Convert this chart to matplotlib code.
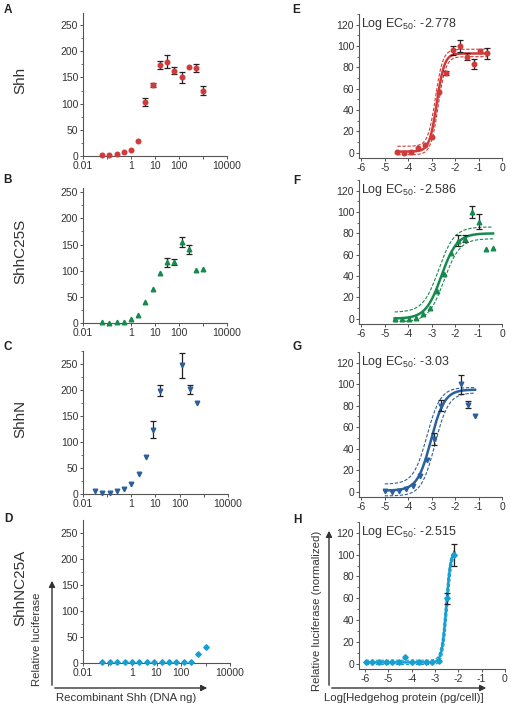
import matplotlib
matplotlib.use("Agg")
import matplotlib.pyplot as plt
import numpy as np
from matplotlib.ticker import MultipleLocator, NullLocator
from matplotlib.patches import FancyArrowPatch

plt.rcParams['font.family'] = ['Liberation Sans', 'DejaVu Sans']
plt.rcParams['mathtext.fontset'] = 'custom'
plt.rcParams['mathtext.rm'] = 'Liberation Sans'
plt.rcParams['mathtext.it'] = 'Liberation Sans:italic'
plt.rcParams['mathtext.bf'] = 'Liberation Sans:bold'
plt.rcParams['axes.unicode_minus'] = False

# ---- left column: relative luciferase vs recombinant Shh (DNA ng) ----
dna_ng = [0.0625, 0.125, 0.25, 0.5, 1, 2, 4, 8, 16, 32, 64, 128, 256, 512, 1024]

shh_y = [1, 2, 3, 8, 12, 28, 103, 136, 174, 180, 163, 150, 170, 168, 125]
shh_err = [0, 0, 0, 0, 0, 0, 8, 4, 8, 12, 7, 11, 0, 8, 8]

c25s_y = [1, 0, 1, 2, 7, 16, 40, 65, 96, 116, 117, 155, 141, 101, 103]
c25s_err = [0, 0, 0, 0, 0, 0, 0, 0, 0, 9, 6, 10, 9, 0, 0]

shhn_x = [0.03125, 0.0625, 0.125, 0.25, 0.5, 1, 2, 4, 8, 16, 128, 256, 512]
shhn_y = [5, 2, 2, 5, 9, 19, 38, 72, 124, 199, 248, 201, 175]
shhn_err = [0, 0, 0, 0, 0, 0, 0, 0, 16, 10, 24, 9, 0]

nc25a_y = [1, 1, 1, 1, 1, 1, 1, 2, 1, 1, 1, 1, 2, 18, 30]
nc25a_err = [0] * 15

# ---- right column: normalized response vs log[Hedgehog protein] ----
e_x = [-4.46, -4.16, -3.87, -3.57, -3.28, -2.98, -2.69, -2.39, -2.10, -1.80, -1.51, -1.21, -0.92, -0.62]
e_y = [1, 0, 1, 4, 7, 15, 57, 75, 96, 100, 90, 83, 95, 93]
e_err = [0, 0, 0, 0, 0, 0, 0, 2, 4, 6, 3, 5, 0, 5]

f_x = [-4.58, -4.28, -3.98, -3.68, -3.38, -3.08, -2.78, -2.48, -2.18, -1.88, -1.58, -1.28, -0.98, -0.68, -0.38]
f_y = [0, 0, 0, 1, 4, 10, 26, 42, 62, 73, 75, 100, 91, 65, 66]
f_err = [0, 0, 0, 0, 0, 0, 0, 0, 0, 5, 3, 6, 7, 0, 0]

g_x = [-5.0, -4.7, -4.4, -4.1, -3.8, -3.5, -3.2, -2.9, -2.6, -1.75, -1.45, -1.15]
g_y = [1, 0, 1, 2, 5, 15, 29, 49, 80, 100, 81, 70]
g_err = [0, 0, 0, 0, 0, 0, 0, 6, 5, 9, 3, 0]

h_x = [-5.97, -5.69, -5.40, -5.11, -4.83, -4.54, -4.29, -3.97, -3.69, -3.40, -3.11, -2.83, -2.50, -2.17]
h_y = [1, 1, 1, 1, 1, 1, 6, 1, 1, 1, 1, 2, 60, 100]
h_err = [0, 0, 0, 0, 0, 0, 0, 0, 0, 0, 0, 0, 5, 10]

# fit parameters (bottom, top, logEC50, hill) and dashed 95% bands
e_fit = (1, 93, -2.778, 2.7)
e_band = [(6, 97, -2.84, 2.7), (-2, 90, -2.72, 2.7)]
f_fit = (0, 80, -2.586, 1.3)
f_band = [(6, 86, -2.70, 1.3), (-3, 75, -2.47, 1.3)]
g_fit = (1, 95, -3.03, 1.5)
g_band = [(7, 97, -3.20, 1.5), (-4, 92, -2.86, 1.5)]
h_fit = (1, 105, -2.515, 4.5)
h_band = [(3, 106, -2.55, 4.5), (-1, 103, -2.47, 4.5)]

RED = '#cf3b3b'
GREEN = '#168a4e'
BLUE = '#2c5f9e'
CYAN = '#179fcf'

W, H = 511, 706
fig = plt.figure(figsize=(W / 100, H / 100), dpi=100)


def add_ax(l, t, r, b):
    return fig.add_axes([l / W, 1 - b / H, (r - l) / W, (b - t) / H])


def style(ax):
    for s in ['top', 'right']:
        ax.spines[s].set_visible(False)
    for s in ['left', 'bottom']:
        ax.spines[s].set_color('#555555')
        ax.spines[s].set_linewidth(0.8)
    ax.tick_params(which='major', length=2.5, width=0.7, color='#555555',
                   labelsize=7.5, labelcolor='#333333', pad=1)
    ax.tick_params(which='minor', length=1.5, width=0.6, color='#555555')


def plot_points(ax, x, y, err, marker, color, ms):
    yerr = [e if e > 0 else np.nan for e in err]
    ax.errorbar(x, y, yerr=yerr, fmt='none', ecolor='#222222', elinewidth=0.9,
                capsize=2, capthick=0.9, zorder=3, clip_on=False)
    ax.plot(x, y, linestyle='none', marker=marker, color=color, ms=ms,
            mec=color, zorder=4, clip_on=False)


def left_panel(box, x, y, err, marker, color, ms, ylim_top, name):
    ax = add_ax(*box)
    style(ax)
    plot_points(ax, x, y, err, marker, color, ms)
    ax.set_xscale('log')
    ax.set_xlim(0.01, 10000)
    ax.set_ylim(0, ylim_top)
    ax.set_xticks([0.01, 0.1, 1, 10, 100, 1000, 10000])
    ax.set_xticklabels(['0.01', '', '1', '10', '100', '', '10000'])
    ax.xaxis.set_minor_locator(NullLocator())
    ax.set_yticks([0, 50, 100, 150, 200, 250])
    ax.yaxis.set_minor_locator(MultipleLocator(25))
    fig.text(20 / W, 1 - ((box[1] + box[3]) / 2 - 4) / H, name, rotation=90,
             ha='center', va='center', fontsize=11, color='#333333')
    return ax


def logistic(xx, p):
    bottom, top, ec, hill = p
    return bottom + (top - bottom) / (1 + 10 ** ((ec - xx) * hill))


def right_panel(box, x, y, err, marker, color, ms, fit, bands, xmin, ec_text):
    ax = add_ax(*box)
    style(ax)
    xx = np.linspace(x[0], x[-1], 300)
    for b in bands:
        ax.plot(xx, logistic(xx, b), color=color, lw=0.8, ls=(0, (3, 1.5)), zorder=2)
    ax.plot(xx, logistic(xx, fit), color=color, lw=1.8, zorder=2)
    plot_points(ax, x, y, err, marker, color, ms)
    ax.set_xlim(xmin, 0)
    ax.set_ylim(-5, 130)
    ax.set_xticks([-6, -5, -4, -3, -2, -1, 0])
    ax.set_yticks([0, 20, 40, 60, 80, 100, 120])
    ax.yaxis.set_minor_locator(MultipleLocator(10))
    ax.text(xmin + 0.08, 121, 'Log EC$_{50}$: ' + ec_text, fontsize=9,
            color='#333333', ha='left', va='center')
    return ax


left_panel((83, 13, 227, 156), dna_ng, shh_y, shh_err, 'o', RED, 3.3, 273, 'Shh')
left_panel((83, 188, 227, 323), dna_ng, c25s_y, c25s_err, '^', GREEN, 3.3, 258, 'ShhC25S')
left_panel((83, 351, 228, 494), shhn_x, shhn_y, shhn_err, 'v', BLUE, 3.3, 275, 'ShhN')
left_panel((83, 520, 230, 663), dna_ng, nc25a_y, nc25a_err, 'D', CYAN, 2.8, 274, 'ShhNC25A')

right_panel((359, 14, 502, 158), e_x, e_y, e_err, 'o', RED, 3.3, e_fit, e_band, -6.1, '-2.778')
right_panel((359, 180, 502, 324), f_x, f_y, f_err, '^', GREEN, 3.3, f_fit, f_band, -6.1, '-2.586')
right_panel((359, 352, 502, 497), g_x, g_y, g_err, 'v', BLUE, 3.3, g_fit, g_band, -6.1, '-3.03')
right_panel((359, 522, 505, 669), h_x, h_y, h_err, 'D', CYAN, 2.8, h_fit, h_band, -6.26, '-2.515')

# panel letters
for letter, (lx, ly) in zip('ABCDEFGH', [(8, 10), (8, 180), (8, 347), (8, 519),
                                        (296, 10), (297, 181), (297, 347), (297, 520)]):
    fig.text(lx / W, 1 - ly / H, letter, fontsize=8.5, fontweight='bold',
             ha='center', va='center', color='#222222')


def fig_arrow(x0, y0, x1, y1):
    arr = FancyArrowPatch((x0 / W, 1 - y0 / H), (x1 / W, 1 - y1 / H),
                          transform=fig.transFigure, arrowstyle='-|>',
                          mutation_scale=9, color='#333333', lw=1.0)
    fig.add_artist(arr)


# axis arrows and labels, left column
fig_arrow(52, 688, 52, 578)
fig_arrow(52, 688, 210, 688)
fig.text(37 / W, 1 - 639 / H, 'Relative luciferase', rotation=90, ha='center',
         va='center', fontsize=8.2, color='#333333')
fig.text(126 / W, 1 - 698 / H, 'Recombinant Shh (DNA ng)', ha='center',
         va='center', fontsize=8.2, color='#333333')

# axis arrows and labels, right column
fig_arrow(329, 688, 329, 528)
fig_arrow(329, 688, 489, 688)
fig.text(317 / W, 1 - 611 / H, 'Relative luciferase (normalized)', rotation=90,
         ha='center', va='center', fontsize=8.2, color='#333333')
fig.text(404 / W, 1 - 698 / H, 'Log[Hedgehog protein (pg/cell)]', ha='center',
         va='center', fontsize=8.2, color='#333333')

fig.savefig('out.png', dpi=100)
